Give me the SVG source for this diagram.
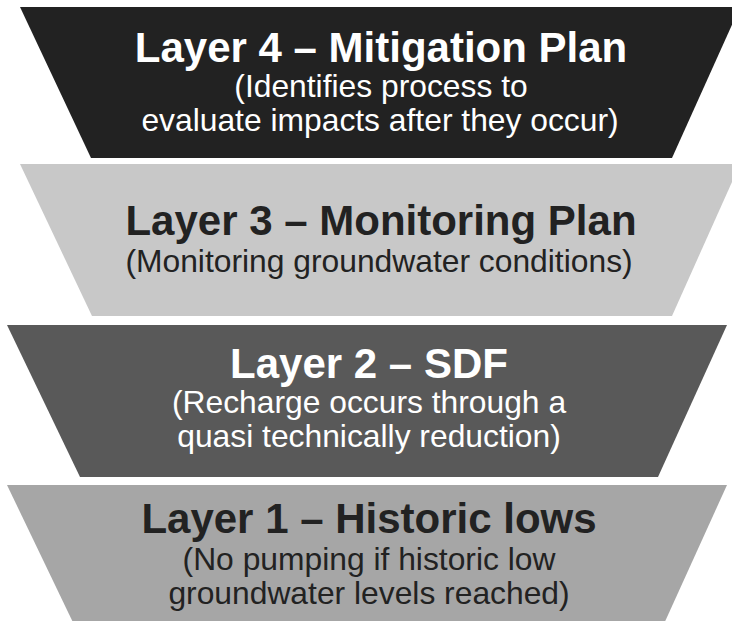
<svg xmlns="http://www.w3.org/2000/svg" width="732" height="621" viewBox="0 0 732 621">
<style>
  .t { font-family: "Liberation Sans", Arial, sans-serif; font-weight: bold; font-size: 42px; text-anchor: middle; }
  .s { font-family: "Liberation Sans", Arial, sans-serif; font-size: 31.8px; text-anchor: middle; }
  .w { fill: #ffffff; }
  .d { fill: #222222; }
</style>
<rect width="732" height="621" fill="#ffffff"/>
<g id="layer4">
  <polygon points="20,7 740,7 672,158 91,158" fill="#222222"/>
  <text class="t w" x="381" y="62">Layer 4 – Mitigation Plan</text>
  <text class="s w" x="381" y="97">(Identifies process to</text>
  <text class="s w" x="380" y="131">evaluate impacts after they occur)</text>
</g>
<g id="layer3">
  <polygon points="20,164 740,164 672,316 92,316" fill="#c8c8c8"/>
  <text class="t d" x="381" y="235">Layer 3 – Monitoring Plan</text>
  <text class="s d" x="379" y="272">(Monitoring groundwater conditions)</text>
</g>
<g id="layer2">
  <polygon points="7,325 727,325 658,477 80,477" fill="#595959"/>
  <text class="t w" x="369" y="378">Layer 2 – SDF</text>
  <text class="s w" x="369" y="413">(Recharge occurs through a</text>
  <text class="s w" x="369" y="447">quasi technically reduction)</text>
</g>
<g id="layer1">
  <polygon points="7,485 727,485 658,637 80,637" fill="#a6a6a6"/>
  <text class="t d" x="369" y="533">Layer 1 – Historic lows</text>
  <text class="s d" x="369" y="570">(No pumping if historic low</text>
  <text class="s d" x="369" y="604">groundwater levels reached)</text>
</g>
<g id="connectors"></g>
</svg>
